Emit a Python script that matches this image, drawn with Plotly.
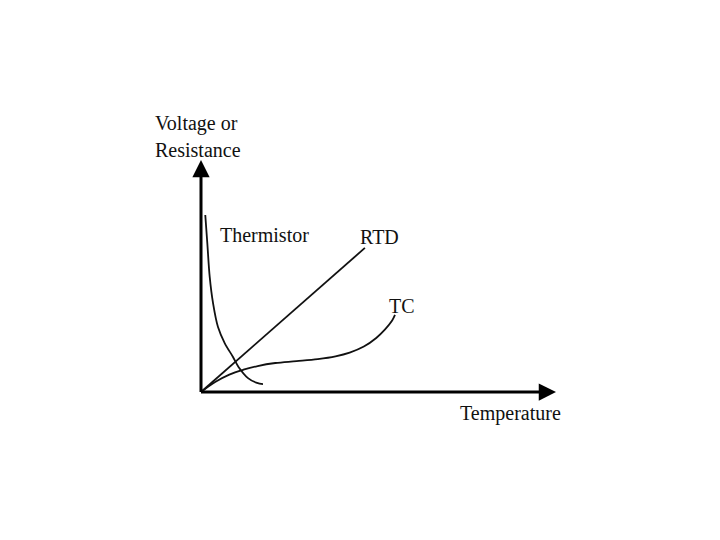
import plotly.graph_objects as go

# Schematic data (temperature axis 0..100, output axis 0..100)
rtd_x = [0.0, 46.3]
rtd_y = [0.0, 62.1]

therm_x = [1.21, 1.78, 2.46, 3.39, 4.80, 6.69, 9.04, 10.6, 13.28, 15.82, 17.51]
therm_y = [76.3, 64.2, 49.6, 38.4, 28.0, 21.1, 15.1, 10.8, 6.0, 3.9, 3.4]

tc_x = [0.0, 4.0, 8.0, 12.0, 16.0, 21.0, 27.0, 33.0, 38.0, 42.0, 46.0, 49.5, 52.0, 54.0, 54.8]
tc_y = [0.0, 4.3, 7.5, 9.6, 11.2, 12.5, 13.3, 14.2, 15.4, 17.0, 19.6, 23.3, 27.0, 30.8, 33.2]

labels = ["Voltage or", "Resistance", "Thermistor", "RTD", "TC", "Temperature"]

# pixel mapping helpers (origin at page px 201,392; 3.54 px/unit in x, 2.32 px/unit in y)
X0, Y0, SX, SY = 201.0, 392.0, 3.54, 2.32
OFF = 8  # default body margin of the html page
def dx(px):
    return (px - X0) / SX
def dy(py):
    return (Y0 - py) / SY

fig = go.Figure()
line = dict(color="#111111", width=1.8)
fig.add_trace(go.Scatter(x=rtd_x, y=rtd_y, mode="lines", line=line, hoverinfo="skip"))
fig.add_trace(go.Scatter(x=therm_x, y=therm_y, mode="lines", line=dict(shape="spline", **line), hoverinfo="skip"))
fig.add_trace(go.Scatter(x=tc_x, y=tc_y, mode="lines", line=dict(shape="spline", **line), hoverinfo="skip"))

anns = []
# axis arrows
anns.append(dict(x=dx(201), y=dy(160), ax=dx(201), ay=dy(393.5), xref="x", yref="y", axref="x", ayref="y",
                 text="", showarrow=True, arrowhead=2, arrowsize=1.15, arrowwidth=3, arrowcolor="#000000"))
anns.append(dict(x=dx(556), y=dy(392), ax=dx(199.5), ay=dy(392), xref="x", yref="y", axref="x", ayref="y",
                 text="", showarrow=True, arrowhead=2, arrowsize=1.15, arrowwidth=3, arrowcolor="#000000"))

pos = [(153, 123), (153, 150), (218, 235), (358, 237), (387, 306), (458, 413)]
for t, (px, py) in zip(labels, pos):
    anns.append(dict(x=dx(px), y=dy(py), xref="x", yref="y", text=t, showarrow=False,
                     xanchor="left", yanchor="middle",
                     font=dict(family="Liberation Serif", size=20, color="#111111")))

fig.update_layout(
    width=720, height=540,
    margin=dict(l=0, r=0, t=0, b=0),
    paper_bgcolor="white", plot_bgcolor="white",
    showlegend=False,
    xaxis=dict(range=[dx(OFF), dx(720 + OFF)], visible=False, fixedrange=True),
    yaxis=dict(range=[dy(540 + OFF), dy(OFF)], visible=False, fixedrange=True),
    annotations=anns,
)
fig.write_html("out.html")
